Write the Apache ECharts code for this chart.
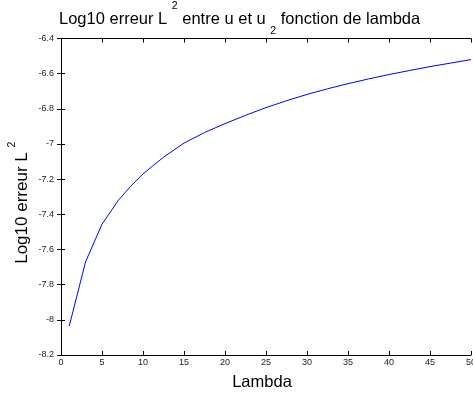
<!DOCTYPE html>
<html>
<head>
<meta charset="utf-8">
<script src="https://cdn.jsdelivr.net/npm/echarts@6/dist/echarts.min.js"></script>
<style>html,body{margin:0;padding:0;background:#fff}#c{width:473px;height:396px}</style>
</head>
<body>
<div id="c"></div>
<script>
const lambdaValues = [1, 3, 5, 7, 8.5, 10, 12.5, 15, 17.5, 20, 22.5, 25, 27.5, 30, 32.5, 35, 37.5, 40, 42.5, 45, 47.5, 50];
const log10Error = [-8.036, -7.67, -7.456, -7.32, -7.24, -7.17, -7.075, -6.995, -6.935, -6.884, -6.837, -6.793, -6.754, -6.718, -6.686, -6.657, -6.63, -6.605, -6.582, -6.56, -6.54, -6.52];
const xTicks = { min: 0, max: 50, step: 5 };
const yTicks = { min: -8.2, max: -6.4, step: 0.2 };

const font = "'Liberation Sans', Arial, sans-serif";
const chart = echarts.init(document.getElementById('c'), null, { renderer: 'canvas' });
const points = lambdaValues.map((x, i) => [x, log10Error[i]]);
const fmtY = v => String(Math.round(v * 10) / 10);

const baseAxis = {
  axisLine: { show: true, lineStyle: { color: '#000', width: 1 } },
  axisTick: { show: true, inside: true, length: 4, lineStyle: { color: '#000' } },
  splitLine: { show: false }
};

chart.setOption({
  animation: false,
  backgroundColor: '#fff',
  title: {
    text: '{n|Log10 erreur L }{sup|2}{n| entre u et u }{sub|2}{n| fonction de lambda}',
    left: 59,
    top: 1,
    padding: 0,
    textStyle: {
      fontWeight: 'normal',
      rich: {
        n: { fontFamily: font, fontSize: 16.5, fontWeight: 'normal', color: '#000', lineHeight: 36, verticalAlign: 'middle' },
        sup: { fontFamily: font, fontSize: 10.5, fontWeight: 'normal', color: '#000', lineHeight: 20, verticalAlign: 'top' },
        sub: { fontFamily: font, fontSize: 10.5, fontWeight: 'normal', color: '#000', lineHeight: 8, verticalAlign: 'bottom' }
      }
    }
  },
  grid: { left: 61, right: 2, top: 38.5, bottom: 41, containLabel: false, outerBoundsMode: 'none' },
  xAxis: [
    Object.assign({}, baseAxis, {
      type: 'value', min: xTicks.min, max: xTicks.max, interval: xTicks.step,
      position: 'bottom',
      name: 'Lambda', nameLocation: 'middle', nameGap: 19,
      nameTextStyle: { fontFamily: font, fontSize: 16.5, color: '#000', padding: [0, 8, 0, 0] },
      axisLabel: { fontFamily: font, fontSize: 9, color: '#222', margin: 3 }
    }),
    Object.assign({}, baseAxis, {
      type: 'value', min: xTicks.min, max: xTicks.max, interval: xTicks.step,
      position: 'top', axisLabel: { show: false }
    })
  ],
  yAxis: [
    Object.assign({}, baseAxis, {
      type: 'value', min: yTicks.min, max: yTicks.max, interval: yTicks.step,
      position: 'left',
      name: '{n|Log10 erreur L }{sup|2}{pad|}', nameLocation: 'middle', nameGap: 24,
      nameMoveOverlap: false,
      nameTextStyle: {
        rich: {
          n: { fontFamily: font, fontSize: 17, color: '#000', lineHeight: 30, verticalAlign: 'middle' },
          sup: { fontFamily: font, fontSize: 10.5, color: '#000', lineHeight: 14, verticalAlign: 'top' },
          pad: { width: 12, lineHeight: 30 }
        }
      },
      axisLabel: { fontFamily: font, fontSize: 9, color: '#222', margin: 7, formatter: fmtY }
    }),
    Object.assign({}, baseAxis, {
      type: 'value', min: yTicks.min, max: yTicks.max, interval: yTicks.step,
      position: 'right', axisLabel: { show: false }
    })
  ],
  series: [{
    type: 'line',
    data: points,
    xAxisIndex: 0, yAxisIndex: 0,
    showSymbol: false,
    smooth: false,
    lineStyle: { color: '#0000ff', width: 1 },
    itemStyle: { color: '#0000ff' }
  }]
});
</script>
</body>
</html>
